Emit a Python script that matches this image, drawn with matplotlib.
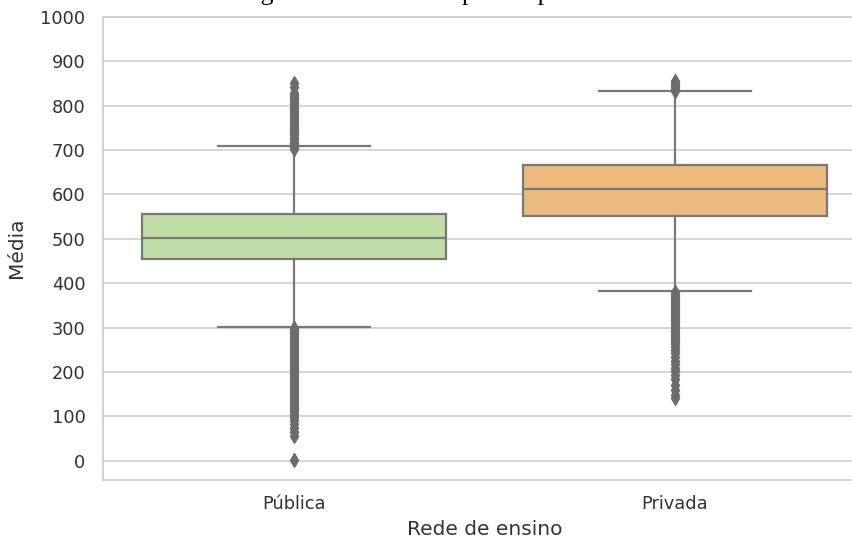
import matplotlib
matplotlib.use("Agg")
import matplotlib.pyplot as plt

# Average exam score per school network
categories = ["Pública", "Privada"]
medians = [502, 613]
q1 = [455, 552]
q3 = [556, 666]
whisker_low = [302, 383]
whisker_high = [709, 832]

fliers_publica = [
    702, 706, 711, 715, 719, 724, 728, 733, 737, 741, 746, 750, 754, 759,
    763, 768, 772, 776, 781, 785, 790, 794, 798, 803, 807, 812, 816, 820,
    825, 829, 842, 851,
    299, 295, 290, 286, 281, 277, 272, 268, 263, 259, 254, 250, 245, 241,
    236, 232, 227, 223, 218, 214, 209, 205, 200, 196, 191, 187, 182, 178,
    173, 169, 164, 160, 155, 151, 146, 142, 137, 133, 128, 124, 119, 115,
    110, 104, 98, 91, 84, 75, 66, 57, 1,
]
fliers_privada = [
    834, 838, 843, 847, 851, 856,
    380, 376, 371, 367, 362, 358, 353, 349, 344, 340, 335, 331, 326, 322,
    317, 313, 308, 304, 299, 295, 290, 286, 281, 277, 272, 268, 263, 257,
    250, 242, 234, 226, 218, 210, 202, 194, 184, 172, 160, 148, 141,
]
fliers = [fliers_publica, fliers_privada]

y_ticks = [0, 100, 200, 300, 400, 500, 600, 700, 800, 900, 1000]

title = "Figura 1 - Média das provas por escola"
x_label = "Rede de ensino"
y_label = "Média"

box_colors = ["#c1dea6", "#eabb7d"]
line_gray = "#787878"
flier_gray = "#6c6c6c"
text_color = "#333333"
grid_color = "#d0d0d0"

fig = plt.figure(figsize=(8.53, 5.38), dpi=100)
ax = fig.add_axes([0.1213, 0.1087, 0.8933, 0.8599])

stats = []
for i, cat in enumerate(categories):
    stats.append(dict(label=cat, med=medians[i], q1=q1[i], q3=q3[i],
                      whislo=whisker_low[i], whishi=whisker_high[i],
                      fliers=fliers[i]))

bp = ax.bxp(
    stats, positions=range(len(categories)), widths=0.8, patch_artist=True,
    boxprops=dict(edgecolor=line_gray, linewidth=1.6),
    medianprops=dict(color=line_gray, linewidth=1.6),
    whiskerprops=dict(color=line_gray, linewidth=1.6),
    capprops=dict(color=line_gray, linewidth=1.6),
    flierprops=dict(marker="d", markerfacecolor=flier_gray,
                    markeredgecolor=flier_gray, markersize=7,
                    linestyle="none"),
)
for patch, color in zip(bp["boxes"], box_colors):
    patch.set_facecolor(color)

ax.set_xlim(-0.5, 1.5)
ax.set_ylim(-42, 1000)
ax.set_yticks(y_ticks)
ax.set_xticks(range(len(categories)))
ax.set_xticklabels(categories)

ax.set_axisbelow(True)
ax.yaxis.grid(True, color=grid_color, linewidth=1.2)
ax.xaxis.grid(False)
for spine in ax.spines.values():
    spine.set_color(grid_color)
    spine.set_linewidth(1.3)

ax.tick_params(axis="both", length=0, labelsize=12.8, labelcolor=text_color)
ax.tick_params(axis="y", pad=13)
ax.tick_params(axis="x", pad=11)

ax.set_xlabel(x_label, fontsize=14.5, color=text_color, labelpad=5)
ax.set_ylabel(y_label, fontsize=14.5, color=text_color, labelpad=10)

fig.text(0.517, 1.0, title, ha="center", va="baseline",
         family="Liberation Serif", fontsize=18.7, color="black")

fig.savefig("out.png", dpi=100)
